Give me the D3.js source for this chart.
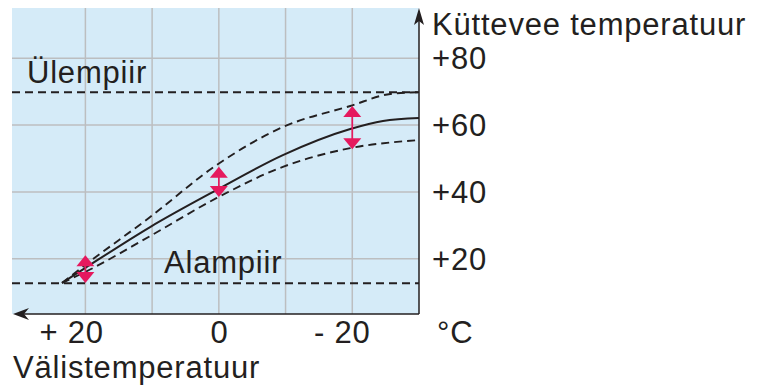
<!DOCTYPE html>
<html>
<head>
<meta charset="utf-8">
<script src="https://cdn.jsdelivr.net/npm/d3@7"></script>
<style>
	body { margin: 0; background: #fff; }
	svg { display: block; }
	text { font-family: 'Liberation Sans', Arial, sans-serif; font-size: 31px; fill: #231f20; letter-spacing: 0.8px; }
</style>
</head>
<body>
<div id="graphic"></div>
<script>
// outdoor temperature (°C) -> heating water temperature (°C)
const curveOutdoor = [23.5, 20, 10.3, 0.3, -9.6, -19.7, -24.6, -30];
const curveWater = [12.8, 17.3, 29.5, 40.6, 51.0, 58.8, 61.2, 62.1];

const upperOutdoor = [23.5, 20, 10.3, 0.3, -9.6, -19.7, -25.7, -30];
const upperWater = [12.8, 18.2, 32.5, 48.1, 59.4, 65.7, 69.3, 69.8];

const lowerOutdoor = [23.5, 20, 10.3, 0.3, -9.6, -19.7, -30];
const lowerWater = [12.8, 16.1, 26.8, 38.2, 47.5, 53.1, 55.5];

const upperLimit = 69.8;
const lowerLimit = 12.7;

// pink adjustment arrows
const arrowOutdoor = [20, 0, -20];
const arrowTop = [21.1, 47.5, 65.7];
const arrowBottom = [12.8, 38.5, 52.8];

const xGrid = [20, 10, 0, -10, -20];
const yGrid = [20, 40, 60, 80];
const xTicks = [20, 0, -20];
const xTickLabels = ['+ 20', '0', '- 20'];
const yTicks = [80, 60, 40, 20];
const yTickLabels = ['+80', '+60', '+40', '+20'];

let width = 758, height = 387;
let margin = { left: 12, top: 8 };
let plotW = 407, plotH = 306;

const svg = d3.select('#graphic')
	.append('svg')
	.attr('width', width)
	.attr('height', height);

const x = d3.scaleLinear().domain([31, -30]).range([margin.left, margin.left + plotW]);
const y = d3.scaleLinear().domain([3.5, 95]).range([margin.top + plotH, margin.top]);

const x0 = x.range()[0], x1 = x.range()[1];
const yb = y.range()[0], yt = y.range()[1];

// background
svg.append('rect')
	.attr('x', x0).attr('y', yt)
	.attr('width', x1 - x0).attr('height', yb - yt)
	.attr('fill', '#d5ebf8');

// grid
svg.selectAll('line.vgrid')
	.data(xGrid)
	.join('line')
	.attr('class', 'vgrid')
	.attr('x1', d => x(d)).attr('x2', d => x(d))
	.attr('y1', yt).attr('y2', yb)
	.attr('stroke', '#bcbec0').attr('stroke-width', 1.5);

svg.selectAll('line.hgrid')
	.data(yGrid)
	.join('line')
	.attr('class', 'hgrid')
	.attr('x1', x0).attr('x2', x1)
	.attr('y1', d => y(d)).attr('y2', d => y(d))
	.attr('stroke', '#bcbec0').attr('stroke-width', 1.5);

// limit lines
svg.selectAll('line.limit')
	.data([upperLimit, lowerLimit])
	.join('line')
	.attr('class', 'limit')
	.attr('x1', x0).attr('x2', x1)
	.attr('y1', d => y(d)).attr('y2', d => y(d))
	.attr('stroke', '#231f20').attr('stroke-width', 1.9)
	.attr('stroke-dasharray', '8,5');

const line = d3.line()
	.x(d => x(d[0]))
	.y(d => y(d[1]))
	.curve(d3.curveMonotoneX);

const zip = (a, b) => a.map((v, i) => [v, b[i]]);

svg.append('path')
	.attr('d', line(zip(upperOutdoor, upperWater)))
	.attr('fill', 'none').attr('stroke', '#231f20').attr('stroke-width', 1.9)
	.attr('stroke-dasharray', '8,5');

svg.append('path')
	.attr('d', line(zip(lowerOutdoor, lowerWater)))
	.attr('fill', 'none').attr('stroke', '#231f20').attr('stroke-width', 1.9)
	.attr('stroke-dasharray', '8,5');

svg.append('path')
	.attr('d', line(zip(curveOutdoor, curveWater)))
	.attr('fill', 'none').attr('stroke', '#231f20').attr('stroke-width', 2);

// pink double arrows
const pink = '#e5195e';
const arrows = svg.selectAll('g.adj')
	.data(arrowOutdoor.map((d, i) => ({ t: d, top: arrowTop[i], bot: arrowBottom[i] })))
	.join('g')
	.attr('class', 'adj');

arrows.append('line')
	.attr('x1', d => x(d.t)).attr('x2', d => x(d.t))
	.attr('y1', d => y(d.top) + 8).attr('y2', d => y(d.bot) - 8)
	.attr('stroke', pink).attr('stroke-width', 1.7);

arrows.append('path')
	.attr('d', d => {
		let cx = x(d.t), ty = y(d.top);
		return 'M' + cx + ',' + ty + 'L' + (cx + 9) + ',' + (ty + 11) + 'L' + (cx - 9) + ',' + (ty + 11) + 'Z';
	})
	.attr('fill', pink);

arrows.append('path')
	.attr('d', d => {
		let cx = x(d.t), by = y(d.bot);
		return 'M' + cx + ',' + by + 'L' + (cx + 9) + ',' + (by - 11) + 'L' + (cx - 9) + ',' + (by - 11) + 'Z';
	})
	.attr('fill', pink);

// axes with arrowheads
svg.append('line')
	.attr('x1', x1).attr('x2', x1)
	.attr('y1', yb).attr('y2', yt + 8)
	.attr('stroke', '#231f20').attr('stroke-width', 1.5);

svg.append('path')
	.attr('d', 'M' + x1 + ',' + yt + 'L' + (x1 + 5) + ',' + (yt + 17) + 'L' + x1 + ',' + (yt + 13) + 'L' + (x1 - 5) + ',' + (yt + 17) + 'Z')
	.attr('fill', '#231f20');

svg.append('line')
	.attr('x1', x1).attr('x2', x0 + 8)
	.attr('y1', yb).attr('y2', yb)
	.attr('stroke', '#231f20').attr('stroke-width', 1.5);

svg.append('path')
	.attr('d', 'M' + (x0 + 1) + ',' + yb + 'L' + (x0 + 17) + ',' + (yb - 6) + 'L' + (x0 + 12) + ',' + yb + 'L' + (x0 + 17) + ',' + (yb + 6) + 'Z')
	.attr('fill', '#231f20');

// tick labels
svg.selectAll('text.xtick')
	.data(xTicks)
	.join('text')
	.attr('class', 'xtick')
	.attr('x', (d, i) => x(d) + String(Math.abs(d)).length * 8.7 + 1)
	.attr('y', yb + 29)
	.attr('text-anchor', 'end')
	.text((d, i) => xTickLabels[i]);

svg.append('text')
	.attr('x', x1 + 18).attr('y', yb + 29)
	.text('°C');

svg.selectAll('text.ytick')
	.data(yTicks)
	.join('text')
	.attr('class', 'ytick')
	.attr('x', x1 + 13)
	.attr('y', d => y(d) + 10.8)
	.text((d, i) => yTickLabels[i]);

svg.append('text')
	.attr('x', x1 + 13).attr('y', yt + 27)
	.text('Küttevee temperatuur');

svg.append('text')
	.attr('x', 13).attr('y', yb + 64)
	.text('Välistemperatuur');

// limit labels
svg.append('text')
	.attr('x', 27).attr('y', y(upperLimit) - 9.5)
	.text('Ülempiir');

svg.append('text')
	.attr('x', 164).attr('y', y(lowerLimit) - 10)
	.text('Alampiir');
</script>
</body>
</html>
